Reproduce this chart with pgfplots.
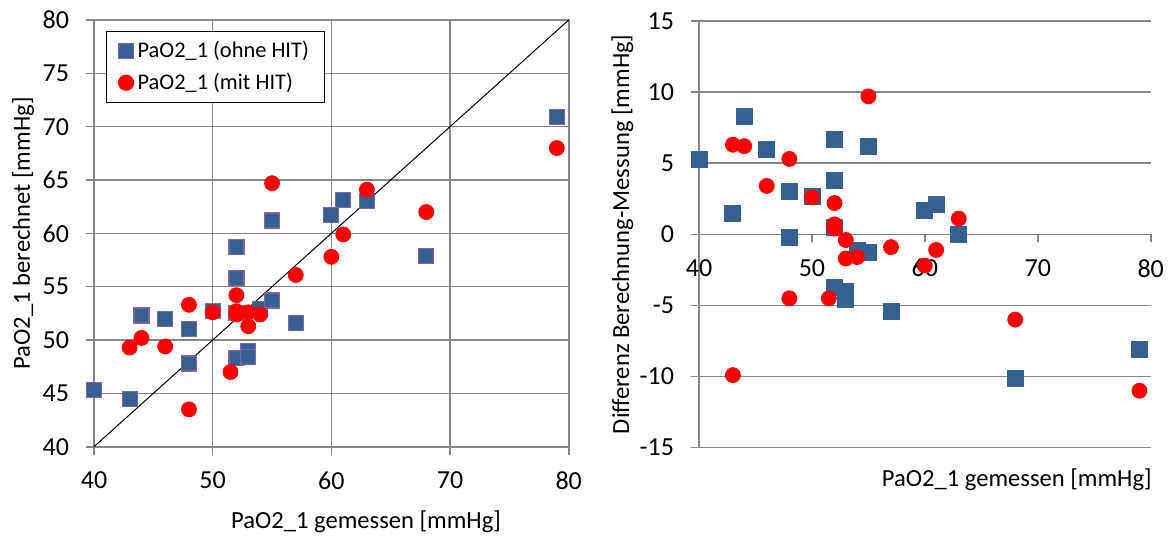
\documentclass[border=0pt]{standalone}
\usepackage{fontspec}
\setmainfont{Carlito}
\usepackage{pgfplots}
\pgfplotsset{compat=1.18}
\usepackage{pgfplotstable}
\definecolor{sqblue}{RGB}{55,96,146}
\definecolor{sqedge}{RGB}{128,100,162}
\definecolor{gridgray}{RGB}{134,134,134}

\pgfplotstableread{
x y d
40 45.3 5.3
43 44.5 1.5
44 52.3 8.3
46 52.0 6.0
48 51.0 3.0
48 47.8 -0.2
50 52.7 2.7
52 58.7 6.7
52 55.8 3.8
52 52.5 0.5
52 48.3 -3.7
53 49.0 -4.0
53 48.4 -4.6
54 52.9 -1.1
55 61.2 6.2
55 53.7 -1.3
57 51.6 -5.4
60 61.7 1.7
61 63.1 2.1
63 63.0 0.0
68 57.9 -10.1
79 70.9 -8.1
}\blueT

\pgfplotstableread{
x y d
43 49.3 6.3
43 33.1 -9.9
44 50.2 6.2
46 49.4 3.4
48 53.3 5.3
48 43.5 -4.5
50 52.6 2.6
51.5 47.0 -4.5
52 54.2 2.2
52 52.7 0.7
52 52.4 0.4
53 52.6 -0.4
53 51.3 -1.7
54 52.4 -1.6
55 64.7 9.7
57 56.1 -0.9
60 57.8 -2.2
61 59.9 -1.1
63 64.1 1.1
68 62.0 -6.0
79 68.0 -11.0
}\redT

\pgfplotsset{
  mystyle/.style={
    scale only axis, clip=false,
    /pgf/number format/assume math mode=true,
    tick label style={font=\fontsize{13}{15}\selectfont},
    label style={font=\fontsize{12.3}{14}\selectfont},
    tick align=outside, major tick length=4pt,
    tick style={draw=gridgray, line width=0.8pt},
    grid style={draw=gridgray, line width=0.8pt},
    axis line style={draw=gridgray, line width=0.8pt},
    xticklabel shift=5pt, yticklabel shift=5pt,
    hide obscured x ticks=false, hide obscured y ticks=false,
  }
}

\begin{document}
\begin{tikzpicture}
\useasboundingbox (0,0) rectangle (585.5pt,269pt);

\begin{axis}[mystyle,
  at={(47pt,45.65pt)}, anchor=south west,
  width=237.35pt, height=213.35pt,
  xmin=40, xmax=80, ymin=40, ymax=80,
  xtick={40,50,...,80}, ytick={40,45,...,80},
  grid=major, xtick pos=bottom, ytick pos=left,
  xlabel={PaO2\_1 gemessen [mmHg]},
  ylabel={PaO2\_1 berechnet [mmHg]},
  xlabel style={at={(axis description cs:0.573,-0.1765)}, anchor=center},
  ylabel style={at={(axis description cs:-0.1496,0.5)}, anchor=center},
  legend style={at={(axis description cs:0,1)}, anchor=north west,
    xshift=6pt, yshift=-5.5pt, draw=black, line width=0.6pt, fill=white,
    font=\fontsize{11.2}{13}\selectfont, row sep=2pt, inner ysep=3pt, inner xsep=6pt},
  legend cell align=left,
]
\addplot[only marks, mark=square*, mark size=3.75pt,
  mark options={fill=sqblue, draw=sqedge, line width=0.6pt}]
  table[x=x, y=y]{\blueT};
\addlegendentry{PaO2\_1 (ohne HIT)}
\addplot[only marks, mark=*, mark size=3.75pt,
  mark options={fill=red, draw=red}, restrict y to domain=40:80]
  table[x=x, y=y]{\redT};
\addlegendentry{PaO2\_1 (mit HIT)}
\addplot[black, line width=0.5pt, forget plot] coordinates {(40,40) (80,80)};
\end{axis}

\begin{axis}[mystyle,
  at={(349.5pt,45.2pt)}, anchor=south west,
  width=225.85pt, height=213.3pt,
  xmin=40, xmax=80, ymin=-15, ymax=15,
  xtick={40,50,...,80}, ytick={-15,-10,...,15},
  axis x line*=middle, axis y line*=left,
  ymajorgrids,
  xlabel={PaO2\_1 gemessen [mmHg]},
  ylabel={Differenz Berechnung-Messung [mmHg]},
  xlabel style={at={(axis description cs:1,-0.076)}, anchor=east, xshift=4pt},
  ylabel style={at={(axis description cs:-0.1696,0.5)}, anchor=center},
]
\addplot[only marks, mark=square*, mark size=4pt,
  mark options={fill=sqblue, draw=sqblue}]
  table[x=x, y=d]{\blueT};
\addplot[only marks, mark=*, mark size=3.75pt,
  mark options={fill=red, draw=red}]
  table[x=x, y=d]{\redT};
\end{axis}
\end{tikzpicture}
\end{document}
